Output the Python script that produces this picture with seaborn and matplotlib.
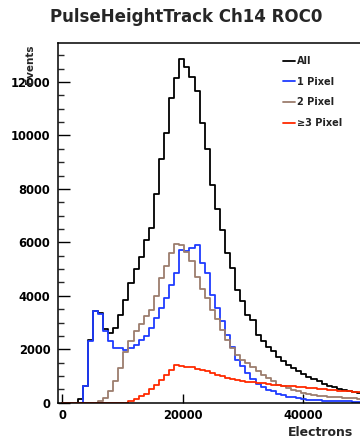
import numpy as np
import pandas as pd
import matplotlib
matplotlib.use("Agg")
import matplotlib.pyplot as plt
import seaborn as sns
from matplotlib.ticker import MultipleLocator, FixedLocator
from matplotlib.lines import Line2D

# ---- data (bin width in electrons, counts per bin) ----
bin_width = 845
all_counts = [0, 0, 0, 150, 610, 2330, 3420, 3360, 2750, 2620, 2790, 3300, 3860, 4490,
              5000, 5450, 6100, 6550, 7810, 9110, 10100, 11390, 12140, 12870, 12580,
              12200, 11680, 10460, 9490, 8130, 7245, 6450, 5600, 5040, 4200, 3790, 3280,
              3100, 2540, 2320, 2100, 1920, 1700, 1545, 1420, 1300, 1170, 1070, 965, 875,
              800, 700, 630, 580, 520, 460, 430, 400, 370]
one_pixel = [0, 0, 0, 0, 610, 2320, 3415, 3330, 2667, 2320, 2045, 2030, 1982, 2045,
             2170, 2356, 2500, 2780, 3165, 3540, 3910, 4410, 4870, 5720, 5660, 5780, 5900,
             5220, 4850, 4040, 3540, 3040, 2540, 2100, 1610, 1360, 1100, 900, 700, 600,
             490, 420, 320, 280, 230, 200, 170, 140, 110, 100, 90, 80, 70, 60, 55, 50,
             45, 40, 35]
two_pixel = [0, 0, 0, 0, 0, 0, 0, 50, 165, 420, 800, 1300, 1900, 2320, 2670, 2950, 3260,
             3460, 3980, 4670, 5100, 5600, 5950, 5900, 5650, 5300, 4700, 4250, 3920,
             3480, 3130, 2730, 2360, 2050, 1800, 1610, 1480, 1340, 1200, 1050, 920, 800,
             673, 610, 550, 490, 423, 360, 335, 280, 265, 236, 230, 210, 200, 170, 165,
             160, 155]
three_pixel = [0, 0, 0, 0, 0, 0, 0, 0, 0, 0, 0, 0, 0, 75, 150, 240, 330, 500, 673, 855,
               1040, 1215, 1400, 1380, 1350, 1320, 1270, 1230, 1170, 1110, 1050, 990,
               930, 900, 860, 820, 790, 760, 740, 720, 700, 680, 660, 640, 620, 610, 590,
               575, 560, 540, 520, 505, 490, 470, 455, 440, 420, 405, 390]
labels = ["All", "1 Pixel", "2 Pixel", "\u22653 Pixel"]
colors = ["#000000", "#1f3cff", "#9c7d6d", "#ff2a00"]

n = len(all_counts)
edges = [i * bin_width for i in range(n + 1)]
centers = [e + bin_width / 2 for e in edges[:-1]]
series_vals = [all_counts, one_pixel, two_pixel, three_pixel]
df = pd.DataFrame({
    "Electrons": np.tile(centers, 4),
    "Events": np.concatenate([np.asarray(v, float) for v in series_vals]),
    "series": np.repeat(labels, n),
})

sns.set_theme(style="white")
plt.rcParams["font.family"] = ["DejaVu Sans"]
plt.rcParams["font.weight"] = "bold"

W, H = 360, 441
fig = plt.figure(figsize=(W / 100, H / 100), dpi=100)
ax = fig.add_axes([58 / W, (H - 402.7) / H, (W - 58) / W, 360.2 / H])

for lab, col in zip(labels, colors):
    sub = df[df["series"] == lab]
    sns.histplot(data=sub, x="Electrons", weights="Events", bins=edges,
                 element="step", fill=False, color=col, linewidth=1.3, ax=ax)

ax.set_xlim(-730, 49480)
ax.set_ylim(0, 13480)
ax.set_xlabel("")
ax.set_ylabel("")
ax.xaxis.set_major_locator(FixedLocator([0, 20000, 40000]))
ax.yaxis.set_major_locator(MultipleLocator(2000))
ax.yaxis.set_minor_locator(MultipleLocator(500))
ax.tick_params(axis="y", which="major", direction="in", length=8.4, width=1.0,
               labelsize=8.3, pad=5.5, colors="black", left=True)
ax.tick_params(axis="y", which="minor", direction="in", length=4.3, width=1.0, left=True)
ax.tick_params(axis="x", which="major", direction="in", length=6.7, width=1.0,
               labelsize=8.3, pad=4.5, colors="black", bottom=True)
for side in ["left", "bottom", "top"]:
    ax.spines[side].set_visible(True)
    ax.spines[side].set_color("black")
    ax.spines[side].set_linewidth(1.1)
ax.spines["right"].set_visible(False)
ax.grid(False)

fig.text(186 / W, 1 - 17 / H, "PulseHeightTrack Ch14 ROC0", ha="center", va="center",
         fontsize=12, fontweight="bold")
fig.text(30.5 / W, 1 - 45 / H, "Events", rotation=90, ha="center", va="top",
         fontsize=7.5, fontweight="bold")
fig.text(353 / W, 1 - 432 / H, "Electrons", ha="right", va="center",
         fontsize=9, fontweight="bold")

handles = [Line2D([0], [0], color=c, lw=1.3) for c in colors]
leg = ax.legend(handles, labels, loc="upper left", bbox_to_anchor=(283 / W, 1 - 56 / H),
                bbox_transform=fig.transFigure, frameon=False, fontsize=7,
                handlelength=1.2, handletextpad=0.25, labelspacing=1.1,
                borderaxespad=0, borderpad=0)
for t in leg.get_texts():
    t.set_color("#222222")

fig.savefig("out.png", dpi=100)
